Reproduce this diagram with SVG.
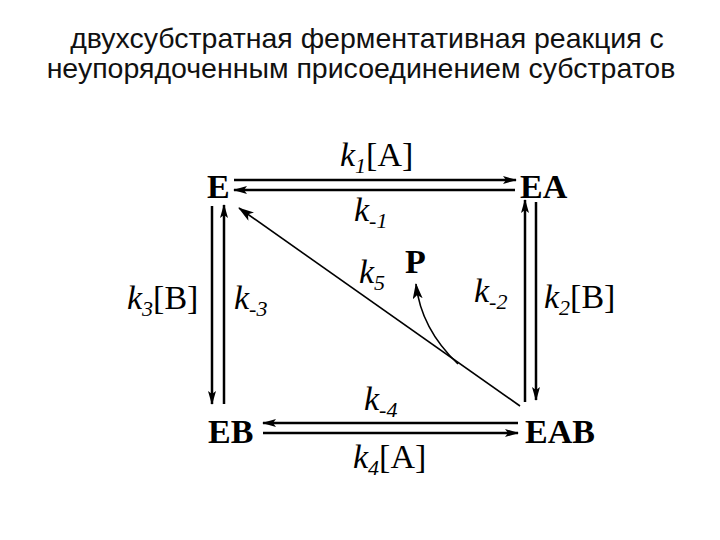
<svg xmlns="http://www.w3.org/2000/svg" width="720" height="540" viewBox="0 0 720 540">
<defs>
<style>
.title{font-family:"Liberation Sans",Arial,sans-serif;font-size:28.5px;fill:#111;text-anchor:middle}
.node{font-family:"Liberation Serif","Times New Roman",serif;font-size:34px;font-weight:bold;fill:#000}
.lab{font-family:"Liberation Serif","Times New Roman",serif;font-size:34px;fill:#000}
.it{font-style:italic}
.sub{font-size:22px;font-style:italic}
.ln{stroke:#000;stroke-width:2.5;fill:none}
.thin{stroke:#000;stroke-width:1.6;fill:none}
</style>
<marker id="ah" viewBox="0 0 14 8" refX="13" refY="4" markerWidth="14" markerHeight="8" markerUnits="userSpaceOnUse" orient="auto">
<path d="M0,0 L14,4 L0,8 L3,4 Z" fill="#000"/>
</marker>
<marker id="ah2" viewBox="0 0 16 10" refX="15" refY="5" markerWidth="16" markerHeight="10" markerUnits="userSpaceOnUse" orient="auto">
<path d="M0,0 L16,5 L0,10 L4,5 Z" fill="#000"/>
</marker>
</defs>
<rect width="720" height="540" fill="#fff"/>
<text class="title" x="367" y="48">двухсубстратная ферментативная реакция с</text>
<text class="title" x="361" y="78">неупорядоченным присоединением субстратов</text>

<g id="connectors">
<line class="ln" x1="234" y1="180" x2="516" y2="180" marker-end="url(#ah)"/>
<line class="ln" x1="515" y1="190" x2="234" y2="190" marker-end="url(#ah)"/>
<line class="ln" x1="212" y1="206" x2="212" y2="404" marker-end="url(#ah)"/>
<line class="ln" x1="224" y1="404" x2="224" y2="205" marker-end="url(#ah)"/>
<line class="ln" x1="525" y1="402" x2="525" y2="200" marker-end="url(#ah)"/>
<line class="ln" x1="536" y1="202" x2="536" y2="400" marker-end="url(#ah)"/>
<line class="ln" x1="518" y1="423" x2="263" y2="423" marker-end="url(#ah)"/>
<line class="ln" x1="263" y1="433" x2="518" y2="433" marker-end="url(#ah)"/>
<line class="thin" x1="520" y1="406" x2="239" y2="208" marker-end="url(#ah2)"/>
<path class="thin" d="M458,364 C438,345 420,320 416,284" marker-end="url(#ah2)"/>
</g>

<g id="node-E"><text class="node" x="207" y="198">E</text></g>
<g id="node-EA"><text class="node" x="520" y="198">EA</text></g>
<g id="node-EB"><text class="node" x="208" y="443">EB</text></g>
<g id="node-EAB"><text class="node" x="525" y="443">EAB</text></g>
<g id="node-P"><text class="node" x="405" y="273">P</text></g>

<g id="labels">
<text class="lab" x="340" y="166"><tspan class="it">k</tspan><tspan class="sub" dy="7">1</tspan><tspan dy="-7">[A]</tspan></text>
<text class="lab" x="354" y="221"><tspan class="it">k</tspan><tspan class="sub" dy="7">-1</tspan></text>
<text class="lab" x="127" y="309"><tspan class="it">k</tspan><tspan class="sub" dy="7">3</tspan><tspan dy="-7">[B]</tspan></text>
<text class="lab" x="234" y="309"><tspan class="it">k</tspan><tspan class="sub" dy="7">-3</tspan></text>
<text class="lab" x="359" y="283"><tspan class="it">k</tspan><tspan class="sub" dy="7">5</tspan></text>
<text class="lab" x="474" y="302"><tspan class="it">k</tspan><tspan class="sub" dy="7">-2</tspan></text>
<text class="lab" x="544" y="308"><tspan class="it">k</tspan><tspan class="sub" dy="7">2</tspan><tspan dy="-7">[B]</tspan></text>
<text class="lab" x="364" y="410"><tspan class="it">k</tspan><tspan class="sub" dy="7">-4</tspan></text>
<text class="lab" x="353" y="468"><tspan class="it">k</tspan><tspan class="sub" dy="7">4</tspan><tspan dy="-7">[A]</tspan></text>
</g>
</svg>
